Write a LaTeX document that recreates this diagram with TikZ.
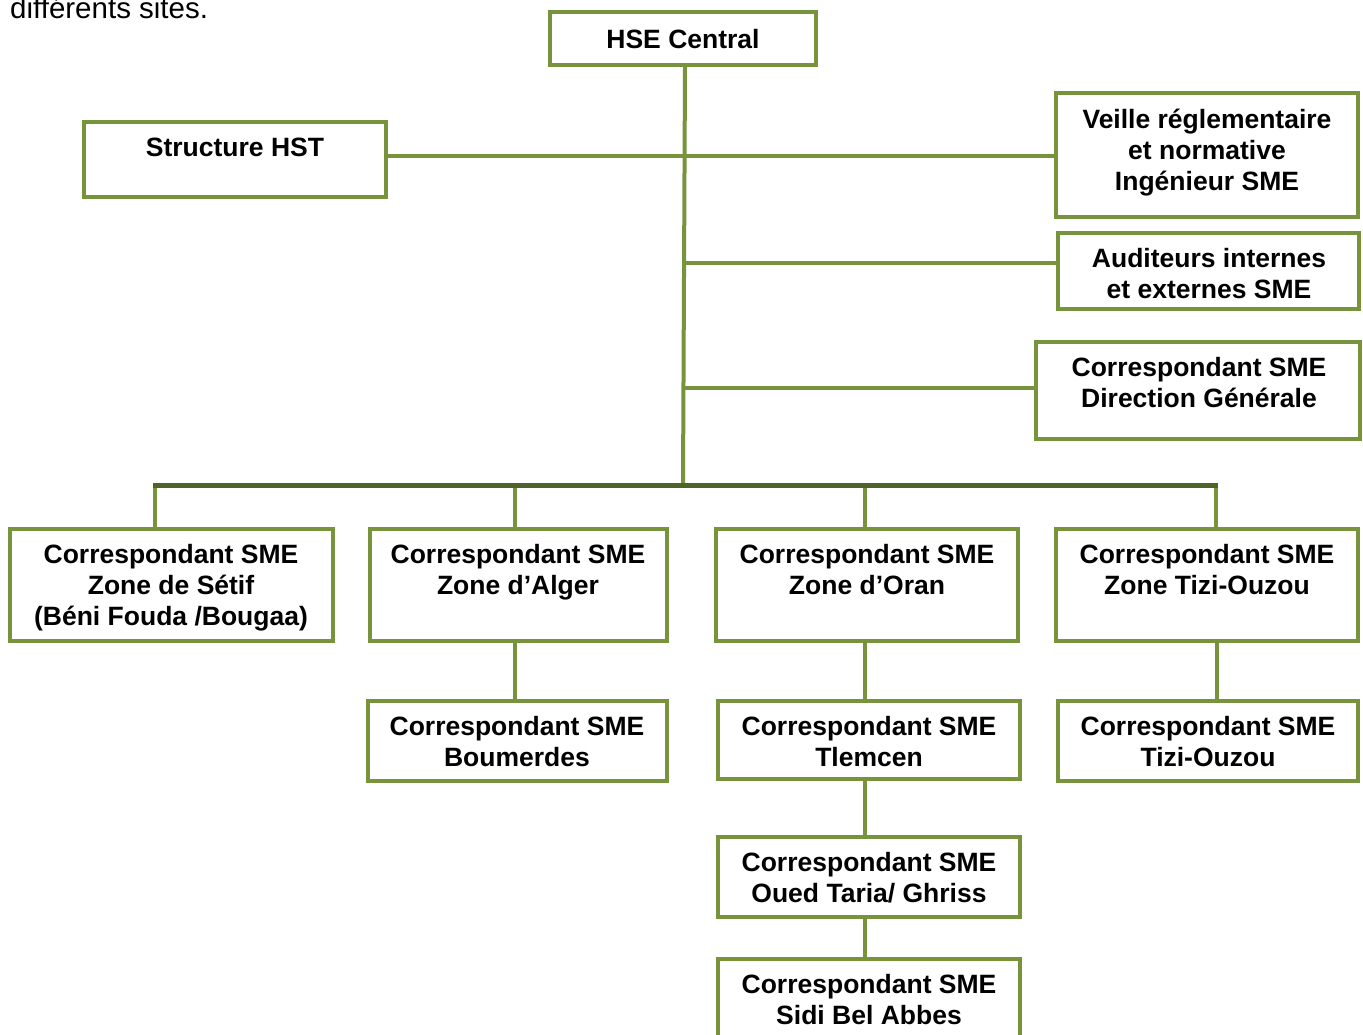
\documentclass[tikz,border=0pt]{standalone}
\usepackage{fontspec}
\setmainfont{Liberation Sans}
\definecolor{boxgreen}{HTML}{77933C}
\definecolor{busgreen}{HTML}{4F6228}
\begin{document}
\begin{tikzpicture}[x=1pt,y=-1pt,
  box/.style={draw=boxgreen, line width=4pt, inner sep=0pt, fill=white},
  txt/.style={font=\bfseries\fontsize{26.5}{31}\selectfont, align=center, inner sep=0pt, anchor=north, text=black},
  conn/.style={draw=boxgreen, line width=4pt},
  bus/.style={draw=busgreen, line width=5pt}]
\useasboundingbox (0,0) rectangle (1363,1034);
% caption fragment
\node[anchor=base west, inner sep=0pt, font=\fontsize{29.5}{34}\selectfont] (cap) at (10,18) {différents sites.};
% boxes
\node[box, minimum width=266pt, minimum height=53pt] (hse) at (683,38.5) {};
\node[box, minimum width=302pt, minimum height=75pt] (hst) at (235,159.5) {};
\node[box, minimum width=302pt, minimum height=124pt] (veille) at (1207,155) {};
\node[box, minimum width=301pt, minimum height=76pt] (audit) at (1208.5,271) {};
\node[box, minimum width=324pt, minimum height=97pt] (dg) at (1198,390.5) {};
\node[box, minimum width=323pt, minimum height=112pt] (setif) at (171.5,585) {};
\node[box, minimum width=297pt, minimum height=112pt] (alger) at (518.5,585) {};
\node[box, minimum width=302pt, minimum height=112pt] (oran) at (867,585) {};
\node[box, minimum width=302pt, minimum height=112pt] (tzone) at (1207,585) {};
\node[box, minimum width=299pt, minimum height=80pt] (boum) at (517.5,741) {};
\node[box, minimum width=302pt, minimum height=78pt] (tlem) at (869,740) {};
\node[box, minimum width=302pt, minimum height=80pt] (oued) at (869,877) {};
\node[box, minimum width=302pt, minimum height=80pt] (sba) at (869,999) {};
\node[box, minimum width=300pt, minimum height=80pt] (tizi) at (1208,741) {};
% texts
\node[txt] (thse) at (683,29.5) {HSE Central};
\node[txt] (thst) at (235,137.5) {Structure HST};
\node[txt] (tveille) at (1207,108.5) {Veille réglementaire\\et normative\\Ingénieur SME};
\node[txt] (taudit) at (1209,248.5) {Auditeurs internes\\et externes SME};
\node[txt] (tdg) at (1199,357.5) {Correspondant SME\\Direction Générale};
\node[txt] (tsetif) at (171,544.5) {Correspondant SME\\Zone de Sétif\\(Béni Fouda /Bougaa)};
\node[txt] (talger) at (518,544.5) {Correspondant SME\\Zone d’Alger};
\node[txt] (toran) at (867,544.5) {Correspondant SME\\Zone d’Oran};
\node[txt] (ttzone) at (1207,544.5) {Correspondant SME\\Zone Tizi-Ouzou};
\node[txt] (tboum) at (517,716.5) {Correspondant SME\\Boumerdes};
\node[txt] (ttlem) at (869,716.5) {Correspondant SME\\Tlemcen};
\node[txt] (toued) at (869,852.5) {Correspondant SME\\Oued Taria/ Ghriss};
\node[txt] (tsba) at (869,974.5) {Correspondant SME\\Sidi Bel Abbes};
\node[txt] (ttizi) at (1208,716.5) {Correspondant SME\\Tizi-Ouzou};
% connector points
\coordinate (trunkbot) at (683,485);
\coordinate (taud) at (684,263);
\coordinate (tdgp) at (684,388);
\coordinate (busL) at (155,485);
\coordinate (busA) at (515,485);
\coordinate (busO) at (865,485);
\coordinate (busR) at (1216,485);
\draw[conn] (hst.east |- 0,156) -- (veille.west |- 0,156);
\draw[conn] (hse.south -| 685,0) -- (trunkbot);
\draw[conn] (taud) -- (audit.west |- taud);
\draw[conn] (tdgp) -- (dg.west |- tdgp);
\draw[conn] (busL) -- (busL |- setif.north);
\draw[conn] (busA) -- (busA |- alger.north);
\draw[conn] (busO) -- (busO |- oran.north);
\draw[conn] (busR) -- (busR |- tzone.north);
\draw[conn] (alger.south -| busA) -- (boum.north -| busA);
\draw[conn] (oran.south -| busO) -- (tlem.north -| busO);
\draw[conn] (tlem.south -| busO) -- (oued.north -| busO);
\draw[conn] (oued.south -| busO) -- (sba.north -| busO);
\draw[conn] (tzone.south -| 1217,0) -- (tizi.north -| 1217,0);
\draw[bus] ([xshift=-2pt]busL) -- ([xshift=2pt]busR);
\end{tikzpicture}
\end{document}
